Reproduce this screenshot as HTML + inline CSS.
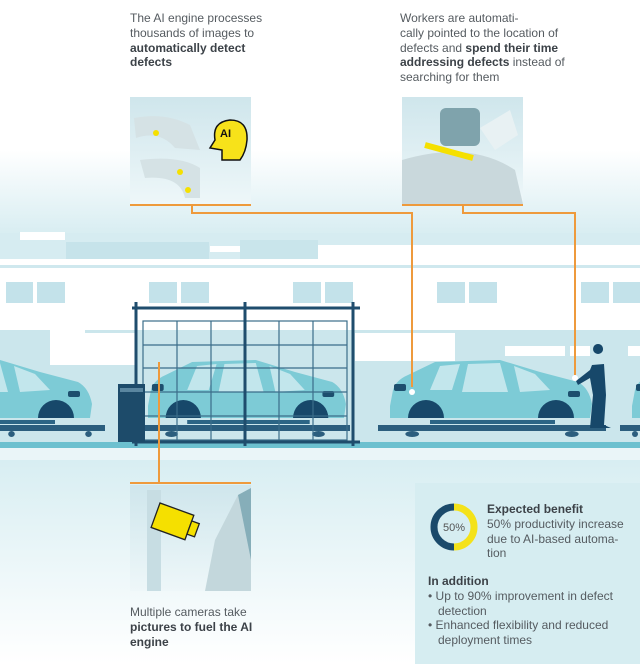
<!DOCTYPE html>
<html><head><meta charset="utf-8"><style>
html,body{margin:0;padding:0;background:#fff;}
body{width:640px;height:664px;position:relative;overflow:hidden;font-family:"Liberation Sans",sans-serif;color:#555b60;}
.t{position:absolute;font-size:12px;line-height:14.8px;}
.t b{color:#3c4248;}
svg{position:absolute;left:0;top:0;}
</style></head><body>
<svg width="640" height="664" viewBox="0 0 640 664">
<defs>
<linearGradient id="sky" x1="0" y1="0" x2="0" y2="1">
<stop offset="0" stop-color="#ffffff"/><stop offset="1" stop-color="#d3ebf0"/></linearGradient>
<linearGradient id="low" x1="0" y1="0" x2="0" y2="1">
<stop offset="0" stop-color="#d8eef2"/><stop offset="1" stop-color="#ffffff"/></linearGradient>
<linearGradient id="pan" x1="0" y1="0" x2="0" y2="1">
<stop offset="0" stop-color="#cfe6ec"/><stop offset="1" stop-color="#eef7f9"/></linearGradient>
<g id="car">
<path d="M0,46 L3,30 Q6,20 18,15 L45,2 L110,0 L150,12 L188,22 Q199,28 202,44 L200,58 L0,58 Z" fill="#7dcbd6"/>
<path d="M50,6 L70,4 L62,30 L40,30 Z M78,4 L110,3 L118,32 L72,32 Z M124,6 L145,14 L160,30 L130,32 Z" fill="#c2e6ec"/>
<path d="M18,58 A18,18 0 0 1 54,58 Z M148,58 A18,18 0 0 1 184,58 Z" fill="#17486a"/>
<rect x="4" y="24" width="12" height="7" rx="2" fill="#1d4f6e"/>
<rect x="178" y="31" width="12" height="6" rx="2" fill="#1d4f6e"/>
<rect x="40" y="60" width="125" height="4" fill="#2c6585"/>
</g>
<g id="plat">
<rect x="0" y="0" width="100" height="6" fill="#2b5e7e"/>
<circle cx="15" cy="9" r="3" fill="#2b5e7e"/><circle cx="85" cy="9" r="3" fill="#2b5e7e"/>
</g>
</defs>
<rect x="0" y="150" width="640" height="95" fill="url(#sky)"/>
<!-- skyline -->
<path d="M20,232 L20,245 L640,245 L640,259 L0,259 L0,245 Z" fill="#d3ebf0"/>
<rect x="0" y="233" width="640" height="27" fill="#d6ecf1"/>
<rect x="66" y="242" width="143" height="17" fill="#c6e3ea"/>
<rect x="240" y="240" width="78" height="19" fill="#c9e5eb"/>
<rect x="318" y="245" width="322" height="14" fill="#fff"/>
<rect x="20" y="232" width="45" height="8" fill="#fff"/>
<rect x="210" y="246" width="30" height="6" fill="#fff"/>
<rect x="0" y="259" width="640" height="71" fill="#fff"/>
<rect x="0" y="265" width="640" height="3" fill="#cfe8ee"/>
<g fill="#c3e2ea">
<rect x="6" y="282" width="27" height="21"/><rect x="37" y="282" width="28" height="21"/>
<rect x="149" y="282" width="28" height="21"/><rect x="181" y="282" width="28" height="21"/>
<rect x="293" y="282" width="28" height="21"/><rect x="325" y="282" width="28" height="21"/>
<rect x="437" y="282" width="28" height="21"/><rect x="469" y="282" width="28" height="21"/>
<rect x="581" y="282" width="28" height="21"/><rect x="613" y="282" width="27" height="21"/>
</g>
<rect x="0" y="330" width="640" height="112" fill="#cbe6ec"/>
<rect x="50" y="330" width="35" height="35" fill="#fff"/>
<rect x="85" y="333" width="50" height="32" fill="#fff"/>
<rect x="355" y="333" width="100" height="28" fill="#fff"/>
<rect x="505" y="346" width="60" height="10" fill="#fff"/>
<rect x="570" y="346" width="20" height="10" fill="#fff"/>
<rect x="628" y="346" width="12" height="10" fill="#fff"/>
<rect x="0" y="442" width="640" height="6" fill="#6cc0cf"/>
<rect x="0" y="448" width="640" height="30" fill="#eaf5f8"/>
<rect x="0" y="460" width="640" height="204" fill="url(#low)"/>
<!-- platforms -->
<use href="#plat" transform="translate(-5,425) scale(1.1,1)"/>
<use href="#plat" transform="translate(378,425) scale(2.28,1)"/>
<use href="#plat" transform="translate(620,425)"/>
<use href="#plat" transform="translate(140,425) scale(2.1,1)"/>
<!-- cars -->
<use href="#car" transform="translate(-110,360)"/>
<use href="#car" transform="translate(148,360) scale(0.98,1)"/>
<use href="#car" transform="translate(390,360)"/>
<use href="#car" transform="translate(632,360)"/>
<!-- frame -->
<g stroke="#1f4d6d" fill="none">
<rect x="143" y="321" width="204" height="119" stroke-width="1.2" stroke="#3b6d8a"/>
<path d="M177,321V440 M211,321V440 M279,321V440 M313,321V440 M143,345H347 M143,368H347 M143,392H347 M143,416H347" stroke-width="1.2" stroke="#3b6d8a"/>
<path d="M132,308H360 M136,302V446 M245,302V446 M353,302V446 M132,442H360" stroke-width="3"/>
</g>
<rect x="118" y="384" width="27" height="58" fill="#1d4b6a"/>
<rect x="120" y="388" width="23" height="4" fill="#5a86a0"/>
<!-- worker -->
<path d="M598,354 a5,5 0 1 1 0.1,0 Z M592,365 L604,364 L606,395 L604,425 L611,428 L590,428 L593,395 L590,378 L578,385 L576,381 L590,370 Z" fill="#17486a"/>
<!-- connectors -->
<g stroke="#ee9a3c" stroke-width="2" fill="none">
<path d="M130,205H251 M192,205V213H412V387"/>
<path d="M402,205H523 M463,205V213H575V375"/>
<path d="M130,483H251 M159,483V362"/>
</g>
<g fill="#222"><circle cx="412" cy="392" r="3" fill="#fff"/><circle cx="575" cy="378" r="3" fill="#fff"/></g>
<!-- top-left panel -->
<rect x="130" y="97" width="121" height="107" fill="url(#pan)"/>
<path d="M134,118 Q165,112 190,125 L200,150 L175,148 Q160,130 136,138 Z" fill="#d5e2e5"/>
<path d="M140,160 Q180,155 200,168 L200,198 L185,198 Q180,175 145,178 Z" fill="#d5e2e5"/>
<circle cx="156" cy="133" r="3" fill="#f5e000"/><circle cx="180" cy="172" r="3" fill="#f5e000"/><circle cx="188" cy="190" r="3" fill="#f5e000"/>
<path d="M222,160 L222,150 L210,148 L215,140 Q212,122 230,120 Q248,120 247,140 Q246,152 240,160 Z" fill="#f7e21a" stroke="#111" stroke-width="1.5"/>
<text x="220" y="137" font-size="11" font-weight="bold" fill="#111" font-family="Liberation Sans,sans-serif">AI</text>
<!-- top-right panel -->
<rect x="402" y="97" width="121" height="107" fill="url(#pan)"/>
<path d="M402,160 Q470,140 515,170 L523,204 L402,204 Z" fill="#c9d8dc"/>
<rect x="440" y="108" width="40" height="38" rx="6" fill="#7fa3ac"/>
<path d="M480,128 L510,110 L518,135 L495,150 Z" fill="#e8f1f3"/>
<path d="M425,145 L473,158" stroke="#f5e000" stroke-width="6"/>
<!-- camera panel -->
<rect x="130" y="485" width="121" height="106" fill="url(#pan)"/>
<rect x="147" y="490" width="14" height="101" fill="#c7dde3"/>
<path d="M205,591 L215,540 L238,495 L251,488 L251,591 Z" fill="#c3d7dc"/>
<path d="M238,495 L251,488 L251,560 Z" fill="#86aeb9"/>
<g transform="translate(160,503) rotate(20)">
<rect x="0" y="0" width="36" height="26" fill="#f5e000" stroke="#222" stroke-width="1.3"/>
<rect x="36" y="6" width="8" height="14" fill="#f5e000" stroke="#222" stroke-width="1.3"/>
</g>
<!-- benefit box -->
<rect x="415" y="483" width="225" height="181" fill="#d6edf1"/>
<path d="M454,507 A20,20 0 0 0 454,547" stroke="#1b4a6b" stroke-width="7" fill="none"/>
<path d="M454,507 A20,20 0 0 1 454,547" stroke="#f4e21a" stroke-width="7" fill="none"/>
<text x="454" y="531" font-size="11" fill="#555" text-anchor="middle" font-family="Liberation Sans,sans-serif">50%</text>
</svg>
<div class="t" style="left:130px;top:11px;">The AI engine processes<br>thousands of images to<br><b>automatically detect<br>defects</b></div>
<div class="t" style="left:400px;top:11px;">Workers are automati-<br>cally pointed to the location of<br>defects and <b>spend their time<br>addressing defects</b> instead of<br>searching for them</div>
<div class="t" style="left:130px;top:605px;">Multiple cameras take<br><b>pictures to fuel the AI<br>engine</b></div>
<div class="t" style="left:487px;top:502px;"><b>Expected benefit</b><br>50% productivity increase<br>due to AI-based automa-<br>tion</div>
<div class="t" style="left:428px;top:574px;"><b>In addition</b><br>• Up to 90% improvement in defect<br>&nbsp;&nbsp;&nbsp;detection<br>• Enhanced flexibility and reduced<br>&nbsp;&nbsp;&nbsp;deployment times</div>
</body></html>
